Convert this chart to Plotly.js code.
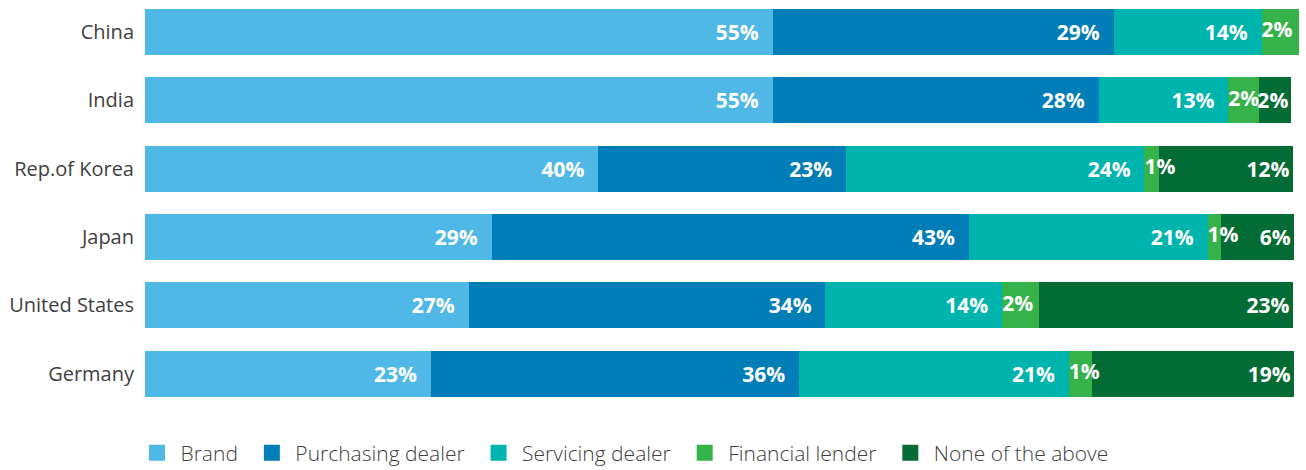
<!DOCTYPE html>
<html>
<head>
<meta charset="utf-8">
<script src="https://cdn.plot.ly/plotly-3.0.1.min.js"></script>
<style>
  html, body { margin: 0; padding: 0; background: #fff; }
  #chart { width: 1306px; height: 470px; }
</style>
</head>
<body>
<div id="chart"></div>
<script>
// countries, top to bottom
const countries = ['China', 'India', 'Rep.of Korea', 'Japan', 'United States', 'Germany'];

// segment widths as drawn (share of respondents, %)
const brand      = [54.7, 54.7, 39.5, 30.2, 28.2, 24.9];
const purchasing = [29.7, 28.4, 21.6, 41.6, 31.1, 32.1];
const servicing  = [12.9, 11.3, 26.0, 20.8, 15.4, 23.5];
const financial  = [3.3, 2.7, 1.3, 1.2, 3.2, 2.0];
const noneAbove  = [0, 2.8, 11.6, 6.3, 22.1, 17.6];

// printed labels
const brandLbl      = [55, 55, 40, 29, 27, 23];
const purchasingLbl = [29, 28, 23, 43, 34, 36];
const servicingLbl  = [14, 13, 24, 21, 14, 21];
const financialLbl  = [2, 2, 1, 1, 2, 1];
const noneLbl       = [null, 2, 12, 6, 23, 19];

const seriesNames = ['Brand', 'Purchasing dealer', 'Servicing dealer', 'Financial lender', 'None of the above'];
const colors = ['#4fb8e7', '#017db8', '#00b4ae', '#35b34a', '#036b34'];

const pad = '\u00a0\u00a0';
const labelFont = { family: 'Open Sans', size: 21, color: '#ffffff', weight: 700 };

function makeTrace(name, values, labels, color, padding) {
    return {
        type: 'bar',
        orientation: 'h',
        name: name,
        y: countries,
        x: values,
        text: labels ? labels.map(v => v == null ? '' : v + '%' + padding) : null,
        textposition: labels ? 'inside' : 'none',
        insidetextanchor: 'end',
        textangle: 0,
        constraintext: 'none',
        textfont: labelFont,
        marker: { color: color },
        showlegend: false,
        hoverinfo: 'skip'
    };
}

// financial lender segments are too thin for their labels, so the labels
// sit on top of all bars, starting at the left edge of the segment
const financialStart = countries.map((c, i) => brand[i] + purchasing[i] + servicing[i]);
const financialText = {
    type: 'scatter',
    mode: 'text',
    x: financialStart,
    y: countries,
    text: financialLbl.map(v => v + '%'),
    textposition: 'middle right',
    textfont: labelFont,
    showlegend: false,
    cliponaxis: false,
    hoverinfo: 'skip'
};

// legend-only swatches (bigger squares than the bar legend icon)
function legendTrace(name, color) {
    return {
        type: 'scatter',
        mode: 'markers',
        name: name + '\u00a0',
        x: [null],
        y: [null],
        marker: { symbol: 'square', size: 20, color: color },
        showlegend: true,
        hoverinfo: 'skip'
    };
}

const data = [
    makeTrace(seriesNames[0], brand, brandLbl, colors[0], pad),
    makeTrace(seriesNames[1], purchasing, purchasingLbl, colors[1], pad),
    makeTrace(seriesNames[2], servicing, servicingLbl, colors[2], pad),
    makeTrace(seriesNames[3], financial, null, colors[3], ''),
    makeTrace(seriesNames[4], noneAbove, noneLbl, colors[4], ''),
    financialText
].concat(seriesNames.map((n, i) => legendTrace(n, colors[i])));

const layout = {
    width: 1306,
    height: 470,
    barmode: 'stack',
    bargap: 0.33,
    margin: { l: 145, r: 2, t: 0, b: 60, autoexpand: false },
    paper_bgcolor: '#ffffff',
    plot_bgcolor: '#ffffff',
    font: { family: 'Open Sans', size: 20, color: '#404040' },
    xaxis: {
        range: [0, 101],
        showgrid: false,
        zeroline: false,
        showticklabels: false,
        fixedrange: true
    },
    yaxis: {
        type: 'category',
        range: [5.532, -0.468],
        showgrid: false,
        zeroline: false,
        ticks: '',
        ticklabelstandoff: 10,
        tickfont: { family: 'Open Sans', size: 20, color: '#404040' },
        fixedrange: true
    },
    legend: {
        orientation: 'h',
        x: -0.0099,
        xanchor: 'left',
        y: -0.105,
        yanchor: 'middle',
        traceorder: 'normal',
        itemwidth: 37,
        itemsizing: 'trace',
        font: { family: 'Open Sans', size: 21, color: '#404040', weight: 300 }
    },
    showlegend: true
};

Plotly.newPlot('chart', data, layout, { displayModeBar: false, staticPlot: true });
</script>
</body>
</html>
